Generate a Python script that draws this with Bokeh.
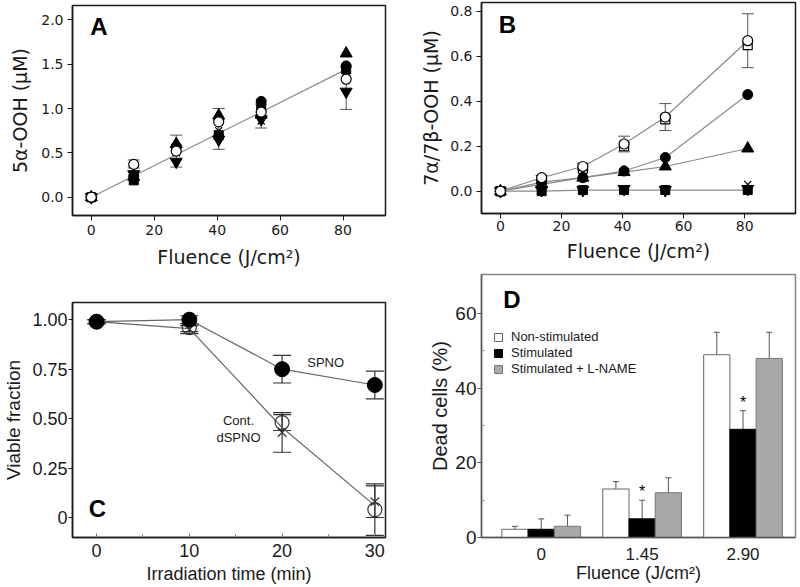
import numpy as np
from bokeh.plotting import figure
from bokeh.layouts import row, column
from bokeh.models import (ColumnDataSource, Whisker, TeeHead, Range1d, Legend, LegendItem,
                          FixedTicker, NumeralTickFormatter)
from bokeh.embed import file_html
from bokeh.resources import INLINE
from bokeh.core.properties import value

# ---------------- data ----------------
fluence = [0, 13.5, 27, 40.5, 54, 81]

# Panel A: 5alpha-OOH (uM)
a_open_circle = [0, 0.37, 0.52, 0.85, 0.96, 1.33]
a_filled_circle = [0, 0.24, 0.57, 0.68, 1.08, 1.48]
a_triangle_up = [0, 0.23, 0.60, 0.92, 0.93, 1.62]
a_triangle_down = [0, 0.26, 0.40, 0.65, 0.88, 1.19]
a_filled_square = [0, 0.19, 0.55, 0.70, 1.00, 1.44]
a_cross = [0, 0.25, 0.50, 0.75, 0.86, 1.41]
a_err_low = [0, 0.33, 0.34, 0.54, 0.78, 0.99]
a_err_high = [0, 0.42, 0.70, 1.00, 1.05, 1.47]

# Panel B: 7alpha/7beta-OOH (uM)
b_open_circle = [0, 0.06, 0.11, 0.21, 0.33, 0.67]
b_open_circle_err = [0, 0.01, 0.015, 0.035, 0.06, 0.12]
b_open_square = [0, 0.05, 0.10, 0.20, 0.32, 0.65]
b_filled_circle = [0, 0.04, 0.06, 0.09, 0.15, 0.43]
b_triangle_up = [0, 0.03, 0.06, 0.085, 0.11, 0.19]
b_cross = [0, 0.01, 0.005, 0.01, 0.01, 0.03]
b_triangle_down = [0, 0.005, 0.005, 0.01, 0.005, 0.01]
b_filled_square = [0, 0.0, 0.005, 0.005, 0.005, 0.005]

# Panel C: viable fraction vs irradiation time
irr_time = [0, 10, 20, 30]
c_spno = [0.99, 1.00, 0.75, 0.67]
c_spno_err = [0.01, 0.02, 0.07, 0.07]
c_cont = [0.99, 0.96, 0.48, 0.04]
c_cont_err = [0.01, 0.02, 0.04, 0.13]
c_dspno = [0.99, 0.95, 0.43, 0.08]
c_dspno_err = [0.01, 0.02, 0.10, 0.08]

# Panel D: dead cells (%)
d_groups = ["0", "1.45", "2.90"]
d_nonstim = [2.2, 13, 49]
d_nonstim_err = [0.8, 2, 6]
d_stim = [2.2, 5, 29]
d_stim_err = [2.8, 5, 5]
d_lname = [3, 12, 48]
d_lname_err = [3, 4, 7]
d_star_groups = [1, 2]

FA = "DejaVu Sans"
FC = "Liberation Sans"
INK = "#1a1a1a"
LINE_GRAY = "#8a8a8a"


def make_fig(w, h, xr, yr, bl, br, bt, bb):
    p = figure(width=w, height=h, x_range=Range1d(*xr), y_range=Range1d(*yr),
               output_backend="svg", toolbar_location=None,
               min_border_left=bl, min_border_right=br, min_border_top=bt, min_border_bottom=bb)
    p.grid.visible = False
    p.outline_line_color = INK
    p.outline_line_width = 1.5
    p.background_fill_color = "white"
    p.border_fill_color = "white"
    for ax in (p.xaxis[0], p.yaxis[0]):
        ax.axis_line_color = INK
        ax.axis_line_width = 1.5
        ax.major_tick_line_color = INK
        ax.minor_tick_line_color = INK
        ax.major_label_text_color = INK
        ax.axis_label_text_color = INK
        ax.axis_label_text_font_style = "normal"
    return p


def style_ab(p, xs1, xs2, ys1, ys2):
    for ax in (p.xaxis[0], p.yaxis[0]):
        ax.major_label_text_font = FA
        ax.major_label_text_font_size = "14px"
        ax.axis_label_text_font = FA
        ax.axis_label_text_font_size = "19px"
        ax.major_tick_out = 5
        ax.major_tick_in = 0
        ax.minor_tick_out = 0
        ax.minor_tick_in = 0
    p.xaxis[0].major_label_standoff = xs1
    p.xaxis[0].axis_label_standoff = xs2
    p.yaxis[0].major_label_standoff = ys1
    p.yaxis[0].axis_label_standoff = ys2


# ---------------- Panel A ----------------
pa = make_fig(400, 271, (-5.96, 93.5), (-0.206, 2.161), 65, 13, 5, 56)
style_ab(pa, 4, 8, 4, 7)
pa.xaxis.ticker = FixedTicker(ticks=[0, 20, 40, 60, 80])
pa.yaxis.ticker = FixedTicker(ticks=[0, 0.5, 1.0, 1.5, 2.0])
pa.yaxis.formatter = NumeralTickFormatter(format="0.0")
pa.xaxis.axis_label = "Fluence (J/cm²)"
pa.yaxis.axis_label = "5α-OOH (μM)"

all_a = np.array([a_open_circle, a_filled_circle, a_triangle_up, a_triangle_down, a_filled_square, a_cross])
fx = np.array(fluence)
slope = float(np.sum(all_a * fx) / (all_a.shape[0] * np.sum(fx ** 2)))
fit_x = [fluence[0], fluence[-1]]
pa.line(fit_x, [slope * v for v in fit_x], line_color=LINE_GRAY, line_width=1.2)

src_a = ColumnDataSource(dict(x=fluence, lo=a_err_low, hi=a_err_high))
pa.add_layout(Whisker(source=src_a, base="x", lower="lo", upper="hi", line_color="#555555", line_width=1,
                      upper_head=TeeHead(size=12, line_color="#555555", line_width=1),
                      lower_head=TeeHead(size=12, line_color="#555555", line_width=1)))
pa.scatter(fluence, a_filled_square, marker="square", size=9, fill_color="black", line_color="black")
pa.scatter(fluence, a_triangle_down, marker="inverted_triangle", size=12, fill_color="black", line_color="black")
pa.scatter(fluence, a_cross, marker="x", size=10, line_color="black", line_width=1.2)
pa.scatter(fluence, a_filled_circle, marker="circle", size=10, fill_color="black", line_color="black")
pa.scatter(fluence, a_triangle_up, marker="triangle", size=12, fill_color="black", line_color="black")
pa.scatter(fluence, a_open_circle, marker="circle", size=10, fill_color="white", line_color="black", line_width=1.2)
pa.text(x=[2.4], y=[1.924], text=["A"], text_font=value(FC), text_font_style="bold",
        text_font_size="24px", text_align="center", text_baseline="middle", text_color="black")

# ---------------- Panel B ----------------
pb = make_fig(398, 271, (-6.2, 96.65), (-0.0993, 0.840), 81, 2, 2, 58)
style_ab(pb, 2, 6, 4, 5)
pb.xaxis.ticker = FixedTicker(ticks=[0, 20, 40, 60, 80])
pb.yaxis.ticker = FixedTicker(ticks=[0, 0.2, 0.4, 0.6, 0.8])
pb.yaxis.formatter = NumeralTickFormatter(format="0.0")
pb.xaxis.axis_label = "Fluence (J/cm²)"
pb.yaxis.axis_label = "7α/7β-OOH (μM)"

for ys in (b_open_circle, b_filled_circle, b_triangle_up, b_filled_square):
    pb.line(fluence, ys, line_color=LINE_GRAY, line_width=1.2)
src_b = ColumnDataSource(dict(x=fluence,
                              lo=[v - e for v, e in zip(b_open_circle, b_open_circle_err)],
                              hi=[v + e for v, e in zip(b_open_circle, b_open_circle_err)]))
pb.add_layout(Whisker(source=src_b, base="x", lower="lo", upper="hi", line_color="#555555", line_width=1,
                      upper_head=TeeHead(size=12, line_color="#555555", line_width=1),
                      lower_head=TeeHead(size=12, line_color="#555555", line_width=1)))
pb.scatter(fluence, b_open_square, marker="square", size=9, fill_color="white", line_color="black", line_width=1.2)
pb.scatter(fluence, b_cross, marker="x", size=10, line_color="black", line_width=1.2)
pb.scatter(fluence, b_triangle_down, marker="inverted_triangle", size=12, fill_color="black", line_color="black")
pb.scatter(fluence, b_filled_square, marker="square", size=9, fill_color="black", line_color="black")
pb.scatter(fluence, b_triangle_up, marker="triangle", size=12, fill_color="black", line_color="black")
pb.scatter(fluence, b_filled_circle, marker="circle", size=10, fill_color="black", line_color="black")
pb.scatter(fluence, b_open_circle, marker="circle", size=10, fill_color="white", line_color="black", line_width=1.2)
pb.text(x=[2.3], y=[0.744], text=["B"], text_font=value(FC), text_font_style="bold",
        text_font_size="24px", text_align="center", text_baseline="middle", text_color="black")

# ---------------- Panel C ----------------
pc = make_fig(400, 315, (-2.6, 31.15), (-0.101, 1.087), 70, 15, 31, 49)
pc.xaxis.ticker = FixedTicker(ticks=[0, 10, 20, 30], minor_ticks=[5, 15, 25])
pc.yaxis.ticker = FixedTicker(ticks=[0, 0.25, 0.5, 0.75, 1.0])
pc.yaxis.formatter = NumeralTickFormatter(format="0.00")
pc.yaxis.major_label_overrides = {0: "0"}
pc.xaxis.axis_label = "Irradiation time (min)"
pc.yaxis.axis_label = "Viable fraction"
for ax in (pc.xaxis[0], pc.yaxis[0]):
    ax.major_label_text_font = FC
    ax.axis_label_text_font = FC
pc.xaxis.major_label_text_font_size = "18px"
pc.xaxis.axis_label_text_font_size = "18px"
pc.xaxis.major_tick_in = 4
pc.xaxis.major_tick_out = 0
pc.xaxis.minor_tick_in = 3
pc.xaxis.minor_tick_out = 0
pc.xaxis.major_label_standoff = 6
pc.xaxis.axis_label_standoff = 4
pc.xaxis.major_tick_line_color = "#777777"
pc.xaxis.minor_tick_line_color = "#777777"
pc.yaxis.major_label_text_font_size = "18px"
pc.yaxis.axis_label_text_font_size = "19px"
pc.yaxis.major_tick_out = 4
pc.yaxis.major_tick_in = 0
pc.yaxis.minor_tick_out = 0
pc.yaxis.minor_tick_in = 0
pc.yaxis.major_label_standoff = 1
pc.yaxis.axis_label_standoff = 5

pc.line(irr_time, c_spno, line_color="#666666", line_width=1.2)
c_mid = [(a + b) / 2 for a, b in zip(c_cont, c_dspno)]
pc.line(irr_time, c_mid, line_color="#666666", line_width=1.2)
for ys, es in ((c_dspno, c_dspno_err), (c_cont, c_cont_err), (c_spno, c_spno_err)):
    s = ColumnDataSource(dict(x=irr_time, lo=[v - e for v, e in zip(ys, es)], hi=[v + e for v, e in zip(ys, es)]))
    pc.add_layout(Whisker(source=s, base="x", lower="lo", upper="hi", line_color="#333333", line_width=1.2,
                          upper_head=TeeHead(size=18, line_color="#333333", line_width=1.2),
                          lower_head=TeeHead(size=18, line_color="#333333", line_width=1.2)))
pc.scatter(irr_time, c_dspno, marker="x", size=12, line_color="#333333", line_width=1.2)
pc.scatter(irr_time, c_cont, marker="circle", size=14, fill_color="white", fill_alpha=0.0,
           line_color="#333333", line_width=1.2)
pc.scatter(irr_time, c_spno, marker="circle", size=15, fill_color="black", line_color="black")
pc.text(x=[24.7], y=[0.784], text=["SPNO"], text_font=value(FC), text_font_size="13px",
        text_align="center", text_baseline="middle", text_color=INK)
pc.text(x=[15.3, 15.3], y=[0.49, 0.406], text=["Cont.", "dSPNO"], text_font=value(FC), text_font_size="13px",
        text_align="center", text_baseline="middle", text_color=INK)
pc.text(x=[0.1], y=[0.045], text=["C"], text_font=value(FC), text_font_style="bold",
        text_font_size="24px", text_align="center", text_baseline="middle", text_color="black")

# ---------------- Panel D ----------------
pd_ = make_fig(398, 315, (-0.592, 2.52), (0, 70.5), 76, 3, 3, 49)
pd_.outline_line_color = "#888888"
pd_.xaxis.ticker = FixedTicker(ticks=[0, 1, 2])
pd_.xaxis.major_label_overrides = {i: g for i, g in enumerate(d_groups)}
pd_.yaxis.ticker = FixedTicker(ticks=[0, 20, 40, 60], minor_ticks=[10, 30, 50])
pd_.xaxis.axis_label = "Fluence (J/cm²)"
pd_.yaxis.axis_label = "Dead cells (%)"
for ax in (pd_.xaxis[0], pd_.yaxis[0]):
    ax.major_label_text_font = FC
    ax.axis_label_text_font = FC
    ax.axis_line_color = "#555555"
pd_.xaxis.major_label_text_font_size = "17px"
pd_.xaxis.axis_label_text_font_size = "18px"
pd_.xaxis.major_tick_line_color = None
pd_.xaxis.minor_tick_line_color = None
pd_.xaxis.major_label_standoff = 4
pd_.xaxis.axis_label_standoff = 0
pd_.yaxis.major_label_text_font_size = "19px"
pd_.yaxis.axis_label_text_font_size = "20px"
pd_.yaxis.major_tick_out = 4
pd_.yaxis.major_tick_in = 0
pd_.yaxis.minor_tick_in = 3
pd_.yaxis.minor_tick_out = 0
pd_.yaxis.major_label_standoff = 1
pd_.yaxis.axis_label_standoff = 1
pd_.yaxis.major_tick_line_color = "#555555"
pd_.yaxis.minor_tick_line_color = "#888888"

idx = np.arange(len(d_groups))
bw = 0.26
series_d = [
    ("Non-stimulated", d_nonstim, d_nonstim_err, -bw, "white", "#666666"),
    ("Stimulated", d_stim, d_stim_err, 0.0, "black", "black"),
    ("Stimulated + L-NAME", d_lname, d_lname_err, bw, "#a9a9a9", "#777777"),
]
items = []
for name, vals, errs, off, fc, lc in series_d:
    xs = idx + off
    r = pd_.vbar(x=xs, top=vals, width=bw, bottom=0, fill_color=fc, line_color=lc, line_width=1)
    s = ColumnDataSource(dict(x=xs, lo=vals, hi=[v + e for v, e in zip(vals, errs)]))
    pd_.add_layout(Whisker(source=s, base="x", lower="lo", upper="hi", line_color="#555555", line_width=1,
                           upper_head=TeeHead(size=6, line_color="#555555", line_width=1), lower_head=None))
    items.append(LegendItem(label=name, renderers=[r]))
star_x = [idx[g] for g in d_star_groups]
star_y = [d_stim[g] + d_stim_err[g] + 2.2 for g in d_star_groups]
pd_.text(x=star_x, y=star_y, text=["*"] * len(star_x), text_font=value(FC), text_font_size="16px",
         text_align="center", text_baseline="middle", text_color="black")
pd_.text(x=[-0.29], y=[63.7], text=["D"], text_font=value(FC), text_font_style="bold",
         text_font_size="24px", text_align="center", text_baseline="middle", text_color="black")
leg = Legend(items=items, location=(12, 161), glyph_width=10, glyph_height=10, label_height=10,
             spacing=1, padding=0, margin=0, border_line_color=None, background_fill_alpha=0,
             label_text_font=FC, label_text_font_size="13px", label_standoff=8, label_text_color=INK)
pd_.add_layout(leg)

layout = row(column(pa, pc, spacing=0), column(pb, pd_, spacing=0), spacing=0)
open("out.html", "w").write(file_html(layout, INLINE))
